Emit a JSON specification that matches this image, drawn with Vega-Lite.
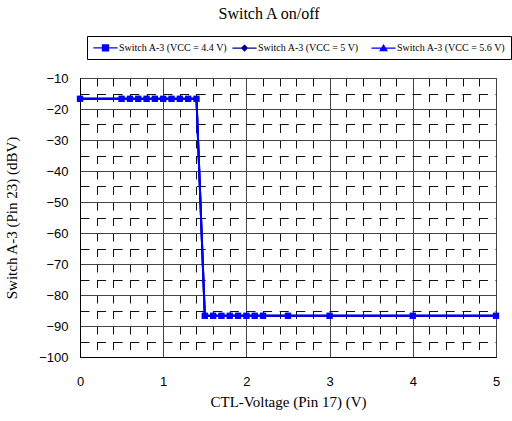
{
  "$schema": "https://vega.github.io/schema/vega-lite/v6.json",
  "width": 416,
  "height": 279,
  "autosize": "none",
  "padding": {"left": 80, "top": 78, "right": 16, "bottom": 64},
  "background": "white",
  "title": {"text": "Switch A on/off", "font": "Liberation Serif", "fontSize": 16, "fontWeight": "normal", "color": "black", "anchor": "middle", "dx": -19, "offset": 14},
  "config": {
    "view": {"stroke": "black", "strokeWidth": 1},
    "axis": {"labelFont": "Liberation Sans", "labelFontSize": 13, "labelColor": "black", "titleFont": "Liberation Serif", "titleFontSize": 15, "titleFontWeight": "normal", "titleColor": "black", "domainColor": "black", "ticks": false, "gridOpacity": 1, "gridWidth": 1}
  },
  "datasets": {
    "pts": [
      {"s": "Switch A-3 (VCC = 5.6 V)", "x": 0, "y": -16.7},
      {"s": "Switch A-3 (VCC = 5.6 V)", "x": 0.5, "y": -16.7},
      {"s": "Switch A-3 (VCC = 5.6 V)", "x": 0.6, "y": -16.7},
      {"s": "Switch A-3 (VCC = 5.6 V)", "x": 0.7, "y": -16.7},
      {"s": "Switch A-3 (VCC = 5.6 V)", "x": 0.8, "y": -16.7},
      {"s": "Switch A-3 (VCC = 5.6 V)", "x": 0.9, "y": -16.7},
      {"s": "Switch A-3 (VCC = 5.6 V)", "x": 1.0, "y": -16.7},
      {"s": "Switch A-3 (VCC = 5.6 V)", "x": 1.1, "y": -16.7},
      {"s": "Switch A-3 (VCC = 5.6 V)", "x": 1.2, "y": -16.7},
      {"s": "Switch A-3 (VCC = 5.6 V)", "x": 1.3, "y": -16.7},
      {"s": "Switch A-3 (VCC = 5.6 V)", "x": 1.4, "y": -16.7},
      {"s": "Switch A-3 (VCC = 5.6 V)", "x": 1.5, "y": -86.7},
      {"s": "Switch A-3 (VCC = 5.6 V)", "x": 1.6, "y": -86.7},
      {"s": "Switch A-3 (VCC = 5.6 V)", "x": 1.7, "y": -86.7},
      {"s": "Switch A-3 (VCC = 5.6 V)", "x": 1.8, "y": -86.7},
      {"s": "Switch A-3 (VCC = 5.6 V)", "x": 1.9, "y": -86.7},
      {"s": "Switch A-3 (VCC = 5.6 V)", "x": 2.0, "y": -86.7},
      {"s": "Switch A-3 (VCC = 5.6 V)", "x": 2.1, "y": -86.7},
      {"s": "Switch A-3 (VCC = 5.6 V)", "x": 2.2, "y": -86.7},
      {"s": "Switch A-3 (VCC = 5.6 V)", "x": 2.5, "y": -86.7},
      {"s": "Switch A-3 (VCC = 5.6 V)", "x": 3.0, "y": -86.7},
      {"s": "Switch A-3 (VCC = 5.6 V)", "x": 4.0, "y": -86.7},
      {"s": "Switch A-3 (VCC = 5.6 V)", "x": 5.0, "y": -86.7},
      {"s": "Switch A-3 (VCC = 5 V)", "x": 0, "y": -16.7},
      {"s": "Switch A-3 (VCC = 5 V)", "x": 0.5, "y": -16.7},
      {"s": "Switch A-3 (VCC = 5 V)", "x": 0.6, "y": -16.7},
      {"s": "Switch A-3 (VCC = 5 V)", "x": 0.7, "y": -16.7},
      {"s": "Switch A-3 (VCC = 5 V)", "x": 0.8, "y": -16.7},
      {"s": "Switch A-3 (VCC = 5 V)", "x": 0.9, "y": -16.7},
      {"s": "Switch A-3 (VCC = 5 V)", "x": 1.0, "y": -16.7},
      {"s": "Switch A-3 (VCC = 5 V)", "x": 1.1, "y": -16.7},
      {"s": "Switch A-3 (VCC = 5 V)", "x": 1.2, "y": -16.7},
      {"s": "Switch A-3 (VCC = 5 V)", "x": 1.3, "y": -16.7},
      {"s": "Switch A-3 (VCC = 5 V)", "x": 1.4, "y": -16.7},
      {"s": "Switch A-3 (VCC = 5 V)", "x": 1.5, "y": -86.7},
      {"s": "Switch A-3 (VCC = 5 V)", "x": 1.6, "y": -86.7},
      {"s": "Switch A-3 (VCC = 5 V)", "x": 1.7, "y": -86.7},
      {"s": "Switch A-3 (VCC = 5 V)", "x": 1.8, "y": -86.7},
      {"s": "Switch A-3 (VCC = 5 V)", "x": 1.9, "y": -86.7},
      {"s": "Switch A-3 (VCC = 5 V)", "x": 2.0, "y": -86.7},
      {"s": "Switch A-3 (VCC = 5 V)", "x": 2.1, "y": -86.7},
      {"s": "Switch A-3 (VCC = 5 V)", "x": 2.2, "y": -86.7},
      {"s": "Switch A-3 (VCC = 5 V)", "x": 2.5, "y": -86.7},
      {"s": "Switch A-3 (VCC = 5 V)", "x": 3.0, "y": -86.7},
      {"s": "Switch A-3 (VCC = 5 V)", "x": 4.0, "y": -86.7},
      {"s": "Switch A-3 (VCC = 5 V)", "x": 5.0, "y": -86.7},
      {"s": "Switch A-3 (VCC = 4.4 V)", "x": 0, "y": -16.7},
      {"s": "Switch A-3 (VCC = 4.4 V)", "x": 0.5, "y": -16.7},
      {"s": "Switch A-3 (VCC = 4.4 V)", "x": 0.6, "y": -16.7},
      {"s": "Switch A-3 (VCC = 4.4 V)", "x": 0.7, "y": -16.7},
      {"s": "Switch A-3 (VCC = 4.4 V)", "x": 0.8, "y": -16.7},
      {"s": "Switch A-3 (VCC = 4.4 V)", "x": 0.9, "y": -16.7},
      {"s": "Switch A-3 (VCC = 4.4 V)", "x": 1.0, "y": -16.7},
      {"s": "Switch A-3 (VCC = 4.4 V)", "x": 1.1, "y": -16.7},
      {"s": "Switch A-3 (VCC = 4.4 V)", "x": 1.2, "y": -16.7},
      {"s": "Switch A-3 (VCC = 4.4 V)", "x": 1.3, "y": -16.7},
      {"s": "Switch A-3 (VCC = 4.4 V)", "x": 1.4, "y": -16.7},
      {"s": "Switch A-3 (VCC = 4.4 V)", "x": 1.5, "y": -86.7},
      {"s": "Switch A-3 (VCC = 4.4 V)", "x": 1.6, "y": -86.7},
      {"s": "Switch A-3 (VCC = 4.4 V)", "x": 1.7, "y": -86.7},
      {"s": "Switch A-3 (VCC = 4.4 V)", "x": 1.8, "y": -86.7},
      {"s": "Switch A-3 (VCC = 4.4 V)", "x": 1.9, "y": -86.7},
      {"s": "Switch A-3 (VCC = 4.4 V)", "x": 2.0, "y": -86.7},
      {"s": "Switch A-3 (VCC = 4.4 V)", "x": 2.1, "y": -86.7},
      {"s": "Switch A-3 (VCC = 4.4 V)", "x": 2.2, "y": -86.7},
      {"s": "Switch A-3 (VCC = 4.4 V)", "x": 2.5, "y": -86.7},
      {"s": "Switch A-3 (VCC = 4.4 V)", "x": 3.0, "y": -86.7},
      {"s": "Switch A-3 (VCC = 4.4 V)", "x": 4.0, "y": -86.7},
      {"s": "Switch A-3 (VCC = 4.4 V)", "x": 5.0, "y": -86.7}
    ]
  },
  "data": {"name": "pts"},
  "encoding": {
    "x": {"field": "x", "type": "quantitative", "title": "CTL-Voltage (Pin 17)  (V)",
      "scale": {"domain": [0, 5], "nice": false, "zero": false},
      "axis": {"values": [0, 0.2, 0.4, 0.6, 0.8, 1, 1.2, 1.4, 1.6, 1.8, 2, 2.2, 2.4, 2.6, 2.8, 3, 3.2, 3.4, 3.6, 3.8, 4, 4.2, 4.4, 4.6, 4.8, 5],
        "labelExpr": "datum.value % 1 === 0 ? format(datum.value, 'd') : ''",
        "labelPadding": 18, "titlePadding": 6, "labelFlush": false,
        "gridDash": {"condition": {"test": "datum.value % 1 !== 0", "value": [8, 7.5]}, "value": []},
        "gridColor": {"condition": {"test": "datum.value % 1 !== 0", "value": "#111111"}, "value": "#444444"}}},
    "y": {"field": "y", "type": "quantitative", "title": "Switch A-3 (Pin 23)  (dBV)",
      "scale": {"domain": [-100, -10], "nice": false, "zero": false},
      "axis": {"values": [-100, -95, -90, -85, -80, -75, -70, -65, -60, -55, -50, -45, -40, -35, -30, -25, -20, -15, -10],
        "labelExpr": "datum.value % 10 === 0 ? datum.label : ''",
        "labelPadding": 12, "titlePadding": 19, "labelFlush": false,
        "gridDash": {"condition": {"test": "datum.value % 10 !== 0", "value": [9, 7.6]}, "value": []},
        "gridColor": {"condition": {"test": "datum.value % 10 !== 0", "value": "#111111"}, "value": "#444444"}}},
    "color": {"field": "s", "type": "nominal", "title": null,
      "scale": {"domain": ["Switch A-3 (VCC = 4.4 V)", "Switch A-3 (VCC = 5 V)", "Switch A-3 (VCC = 5.6 V)"], "range": ["#0000FF", "#000080", "#0000FF"]},
      "legend": {"orient": "none", "legendX": 7, "legendY": -42, "direction": "horizontal", "columns": 3, "gridAlign": "all",
        "strokeColor": "black", "padding": 5, "fillColor": "white",
        "labelFont": "Liberation Serif", "labelFontSize": 10, "labelColor": "black", "labelLimit": 200,
        "symbolSize": 121, "symbolOffset": 7, "labelOffset": 7, "columnPadding": 1,
        "encode": {"symbols": {"update": {
          "shape": {"signal": "datum.value === 'Switch A-3 (VCC = 4.4 V)' ? 'M-2.2,0H2.2M-0.55,-0.55H0.55V0.55H-0.55Z' : datum.value === 'Switch A-3 (VCC = 5 V)' ? 'M-2.2,0H2.2M0,-0.5L0.5,0L0,0.5L-0.5,0Z' : 'M-2.2,0H2.2M0,-0.55L0.6,0.45H-0.6Z'"},
          "fill": {"scale": "color", "field": "value"},
          "stroke": {"scale": "color", "field": "value"},
          "strokeWidth": {"value": 1.3},
          "opacity": {"value": 1}
        }}}}}
  },
  "layer": [
    {"mark": {"type": "line", "strokeWidth": 2}},
    {"transform": [{"filter": "datum.s === 'Switch A-3 (VCC = 5.6 V)'"}],
      "mark": {"type": "point", "filled": true, "size": 40, "opacity": 1, "shape": "triangle-up"}},
    {"transform": [{"filter": "datum.s === 'Switch A-3 (VCC = 5 V)'"}],
      "mark": {"type": "point", "filled": true, "size": 40, "opacity": 1, "shape": "diamond"}},
    {"transform": [{"filter": "datum.s === 'Switch A-3 (VCC = 4.4 V)'"}],
      "mark": {"type": "point", "filled": true, "size": 40, "opacity": 1, "shape": "square"}}
  ]
}
